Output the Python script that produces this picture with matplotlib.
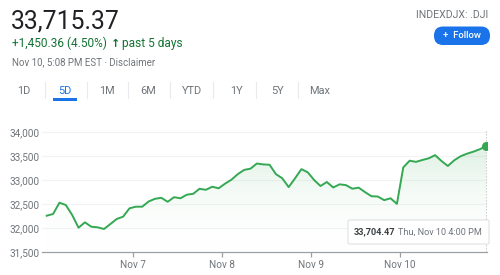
import matplotlib
matplotlib.use("Agg")
import matplotlib.pyplot as plt
import numpy as np
from matplotlib.patches import FancyBboxPatch, Rectangle
from matplotlib.colors import LinearSegmentedColormap

plt.rcParams['font.family'] = ['Roboto', 'DejaVu Sans']

# ---- data ----
price_text = "33,715.37"
change_text = "+1,450.36 (4.50%)"
period_text = "past 5 days"
time_text = "Nov 10, 5:08 PM EST · Disclaimer"
ticker_text = "INDEXDJX: .DJI"
ranges = ["1D", "5D", "1M", "6M", "YTD", "1Y", "5Y", "Max"]
selected_range = "5D"

day_labels = ["Nov 7", "Nov 8", "Nov 9", "Nov 10"]
day_starts = [13.6, 27.5, 41.5, 55.5]          # index positions of day boundaries

close = [
    # Nov 4
    32256, 32292, 32527, 32479, 32271, 32006, 32118, 32027, 32014, 31979,
    32083, 32188, 32236, 32410,
    # Nov 7
    32444, 32444, 32552, 32608, 32629, 32546, 32642, 32619, 32694, 32712,
    32817, 32796, 32860, 32827,
    # Nov 8
    32923, 33005, 33121, 33210, 33236, 33343, 33325, 33318, 33122, 33035,
    32852, 33035, 33226, 33160,
    # Nov 9
    33000, 32875, 32958, 32844, 32910, 32893, 32819, 32840, 32747, 32662,
    32656, 32580, 32619, 32503,
    # Nov 10
    33262, 33402, 33378, 33417, 33452, 33518, 33396, 33292, 33410, 33495,
    33548, 33590, 33640, 33704.47,
]
last_label = "Thu, Nov 10 4:00 PM"
y_ticks = [31500, 32000, 32500, 33000, 33500, 34000]

# ---- figure ----
W, H = 500, 275
fig = plt.figure(figsize=(W / 100, H / 100), dpi=100)
fig.patch.set_facecolor('white')

def fx(x):
    return x / W

def fy(y):
    return 1 - y / H

GREEN = '#34a853'
GREY = '#70757a'
BLUE = '#1a73e8'

# header
fig.text(fx(11), fy(28.5), price_text, fontsize=17.8, color='#202124', va='baseline', ha='left')
fig.text(fx(12), fy(47), change_text, fontsize=8.6, color='#137333', va='baseline', ha='left')
fig.text(fx(110.5), fy(47), "\u2191", fontsize=8.0, color='#137333', va='baseline', ha='left',
         fontweight='bold', family=['DejaVu Sans'])
fig.text(fx(122), fy(47), period_text, fontsize=8.6, color='#137333', va='baseline', ha='left')
fig.text(fx(12), fy(65), time_text, fontsize=7.0, color=GREY, va='baseline', ha='left')
fig.text(fx(488), fy(17.5), ticker_text, fontsize=7.6, color=GREY, va='baseline', ha='right')

# follow button
btn = FancyBboxPatch((fx(434), fy(45)), fx(490) - fx(434), fy(26.5) - fy(45),
                     boxstyle="round,pad=0,rounding_size=0.018", transform=fig.transFigure,
                     facecolor=BLUE, edgecolor='none', mutation_aspect=W / H)
fig.add_artist(btn)
fig.text(fx(462), fy(35.8), "+  Follow", fontsize=6.8, color='white', va='center', ha='center',
         fontweight='medium')

# range tabs
tab_x = [24, 65, 107, 148, 192, 236, 277, 320]
sep_x = [45, 87, 128, 170, 213, 256, 298]
for lab, xx in zip(ranges, tab_x):
    c = BLUE if lab == selected_range else GREY
    fig.text(fx(xx), fy(90.5), lab, fontsize=7.9, color=c, va='center', ha='center')
for xx in sep_x:
    fig.add_artist(plt.Line2D([fx(xx), fx(xx)], [fy(82), fy(98)], transform=fig.transFigure,
                              color='#e8eaed', lw=0.8))
sel = tab_x[ranges.index(selected_range)]
fig.add_artist(Rectangle((fx(sel - 12), fy(101)), fx(24), fy(98.5) - fy(101),
                         transform=fig.transFigure, facecolor=BLUE, edgecolor='none'))

# chart axes
ax = fig.add_axes([fx(42), fy(252), fx(487) - fx(42), fy(129.6) - fy(252)])
x = np.arange(len(close))
y = np.array(close, dtype=float)
ax.set_xlim(-0.74, 69.15)
ax.set_ylim(31500, 34050)

# gradient fill
poly = ax.fill_between(x, y, 31500, color='none', lw=0)
grad = np.linspace(0, 1, 256).reshape(-1, 1)
cmap = LinearSegmentedColormap.from_list('g', [(1, 1, 1, 0), (0.204, 0.659, 0.325, 0.22)])
im = ax.imshow(grad, aspect='auto', cmap=cmap, origin='lower',
               extent=[-0.74, 69.15, 31500, 34050], zorder=1, interpolation='bilinear')
im.set_clip_path(poly.get_paths()[0], transform=ax.transData)

ax.plot(x, y, color=GREEN, lw=1.4, zorder=3, solid_joinstyle='round')
ax.plot([x[-1]], [y[-1]], 'o', color=GREEN, ms=5.5, zorder=4)
ax.axvline(x[-1], color='#c4c7c5', lw=0.8, ls=(0, (1.2, 1.5)), zorder=2)

for yt in y_ticks[1:]:
    ax.axhline(yt, color='#f1f3f4', lw=0.8, zorder=0)

for s in ['top', 'right', 'left']:
    ax.spines[s].set_visible(False)
ax.spines['bottom'].set_color('#9aa0a6')
ax.spines['bottom'].set_linewidth(0.9)
ax.set_yticks(y_ticks)
ax.set_yticklabels([f"{v:,}" for v in y_ticks])
ax.tick_params(axis='y', length=0, pad=2, labelsize=7.2, labelcolor=GREY)
ax.set_xticks(day_starts)
ax.set_xticklabels(day_labels)
ax.tick_params(axis='x', length=3.5, width=0.9, color='#9aa0a6', pad=2, labelsize=7.2, labelcolor=GREY)
ax.patch.set_alpha(0)

# tooltip
tip = FancyBboxPatch((fx(348), fy(244)), fx(489) - fx(348), fy(220) - fy(244),
                     boxstyle="round,pad=0,rounding_size=0.004", transform=fig.transFigure,
                     facecolor='white', edgecolor='#dadce0', lw=0.7, zorder=10)
fig.add_artist(tip)
fig.text(fx(353.5), fy(232), f"{close[-1]:,.2f}", fontsize=6.6, color='#3c4043', va='center', ha='left',
         fontweight='bold', zorder=11)
fig.text(fx(397.5), fy(232), last_label, fontsize=6.6, color=GREY, va='center', ha='left', zorder=11)

fig.savefig('out.png', dpi=100)
